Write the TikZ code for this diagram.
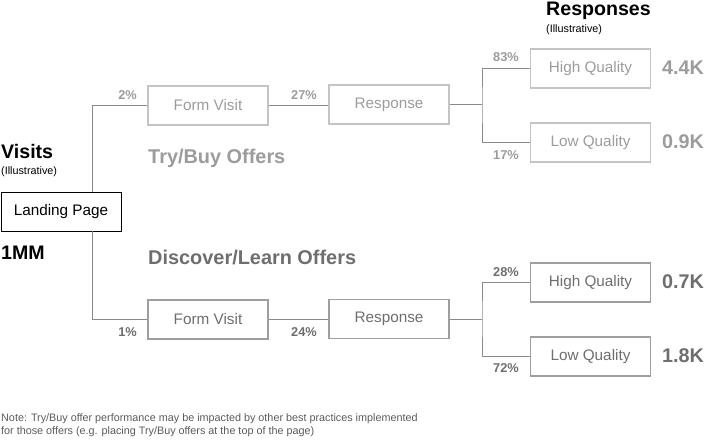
\documentclass[tikz,border=0pt]{standalone}
\usepackage{fontspec}
\setmainfont{Liberation Sans}
\definecolor{boxlight}{HTML}{C4C4C4}
\definecolor{textlight}{HTML}{9C9C9C}
\definecolor{boxdark}{HTML}{9E9E9E}
\definecolor{textdark}{HTML}{6E6E6E}
\definecolor{linegray}{HTML}{8A8A8A}
\definecolor{notegray}{HTML}{5A5A5A}
\begin{document}
\begin{tikzpicture}[x=1pt,y=-1pt]
		\newcommand{\splitA}{92} % x of the first branching
		\newcommand{\splitB}{482} % x of the second branching
		\newcommand{\pctx}{137}
		\newcommand{\valx}{662}

		% set the styles of boxes and labels
		\tikzset{
			box/.style={
				draw,
				line width=1.2pt,
				minimum width=120pt,
				minimum height=39pt,
				inner sep=0pt,
				font=\fontsize{15.3}{18}\selectfont
				},
			lightbox/.style={box, draw=boxlight, text=textlight},
			darkbox/.style={box, draw=boxdark, text=textdark},
			conn/.style={draw=linegray, line width=0.9pt},
			pct/.style={inner sep=0pt, anchor=east, font=\bfseries\fontsize{12.8}{14}\selectfont},
			val/.style={inner sep=0pt, anchor=west, font=\bfseries\fontsize{19.8}{22}\selectfont},
			head/.style={inner sep=0pt, anchor=west, font=\bfseries\fontsize{19.6}{22}\selectfont},
			sub/.style={inner sep=0pt, anchor=west, font=\fontsize{10.8}{12}\selectfont}
		}

		\useasboundingbox (0,0) rectangle (705,440);

		% boxes
		\node[box, line width=0.9pt, draw=black] (lp) at (61,211.5) {Landing Page};
		\node[lightbox] (fv1) at (208,105.5) {Form Visit};
		\node[lightbox] (rs1) at (389,104.5) {Response};
		\node[lightbox] (hq1) at (590.5,68.5) {High Quality};
		\node[lightbox] (lq1) at (590.5,142.5) {Low Quality};
		\node[darkbox] (fv2) at (208,319.5) {Form Visit};
		\node[darkbox] (rs2) at (389,319) {Response};
		\node[darkbox] (hq2) at (590.5,282.5) {High Quality};
		\node[darkbox] (lq2) at (590.5,356.5) {Low Quality};

		% branch points
		\coordinate (sa) at (\splitA,211.5);
		\coordinate (sb1) at (\splitB,104.5);
		\coordinate (sb2) at (\splitB,319);

		% connectors
		\draw[conn] (lp.north -| sa) |- (fv1.west);
		\draw[conn] (lp.south -| sa) |- (fv2.west);
		\draw[conn] (fv1.east) -- (rs1.west |- fv1.east);
		\draw[conn] (fv2.east) -- (rs2.west |- fv2.east);
		\draw[conn] (rs1.east) -- (sb1);
		\draw[conn] (hq1.west) -| (sb1) |- (lq1.west);
		\draw[conn] (rs2.east) -- (sb2);
		\draw[conn] (hq2.west) -| (sb2) |- (lq2.west);

		% rates
		\node[pct, text=textlight] (p1) at (\pctx,95) {2\%};
		\node[pct, text=textlight] (p2) at (317,95) {27\%};
		\node[pct, text=textlight] (p3) at (519,57) {83\%};
		\node[pct, text=textlight] (p4) at (519,155) {17\%};
		\node[pct, text=textdark] (p5) at (\pctx,332) {1\%};
		\node[pct, text=textdark] (p6) at (317,332) {24\%};
		\node[pct, text=textdark] (p7) at (519,272) {28\%};
		\node[pct, text=textdark] (p8) at (519,368) {72\%};

		% totals
		\node[val, text=textlight] (v1) at (\valx,68) {4.4K};
		\node[val, text=textlight] (v2) at (\valx,142) {0.9K};
		\node[val, text=textdark] (v3) at (\valx,282) {0.7K};
		\node[val, text=textdark] (v4) at (\valx,356) {1.8K};

		% headings
		\node[head] (visits) at (1,151) {Visits};
		\node[sub] (ill1) at (1,172) {(Illustrative)};
		\node[head] (mm) at (1,253) {1MM};
		\node[head, anchor=north west] (resp) at (546,1.5) {Responses};
		\node[sub] (ill2) at (546,30) {(Illustrative)};
		\node[head, font=\bfseries\fontsize{19.9}{22}\selectfont, text=textlight] (tb) at (148,158) {Try/Buy Offers};
		\node[head, font=\bfseries\fontsize{19.9}{22}\selectfont, text=textdark] (dl) at (148,257) {Discover/Learn Offers};

		% note
		\node[inner sep=0pt, anchor=north west, align=left, text=notegray,
			font=\fontsize{10.8}{13.5}\selectfont] (note) at (1,413)
			{Note: Try/Buy offer performance may be impacted by other best practices implemented\\
			for those offers (e.g. placing Try/Buy offers at the top of the page)};

\end{tikzpicture}
\end{document}
